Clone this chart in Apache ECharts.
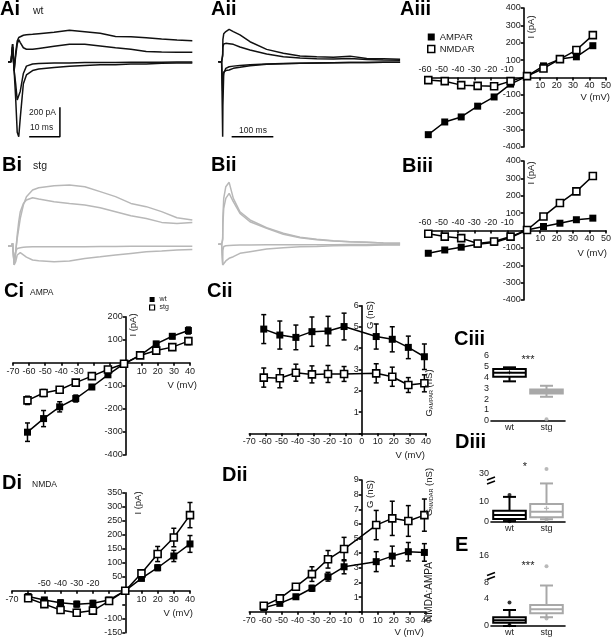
<!DOCTYPE html>
<html><head><meta charset="utf-8">
<script src="https://cdn.jsdelivr.net/npm/echarts@6/dist/echarts.min.js"></script>
<style>html,body{margin:0;padding:0;background:#fff}#c{width:612px;height:639px}</style>
</head><body><div id="c"></div>
<script>
// ---------------- DATA ----------------
// Example current traces (A: wt, black; B: stg, grey). Time in ms, current in pA
const aiT = [0,1,1.5,2,2.5,3,3.5,4,5,6,8,10,15,20,25,30,35,40,45,50,55,60];
const aiTrace1 = [0,0,120,-60,60,140,165,175,180,183,186,190,200,214,204,193,172,170,163,155,148,143];
const aiTrace2 = [0,0,120,-60,40,120,150,130,95,85,84,90,105,118,118,107,95,84,70,66,65,64];
const aiTrace3 = [0,0,100,-60,-250,-480,-510,-380,-150,-90,-60,-50,-40,-30,-25,-20,-20,-15,-15,-10,-8,-8];
const aiTrace4 = [0,0,100,-60,-150,-260,-270,-200,-80,-30,-15,-12,-8,-8,-6,-5,-5,-4,-3,-3,-2,-2];
const aiiT = [0,8,10,10.5,11,13,18,26,36,52,76,116,156,196,236,276,316,356,396,436];
const aiiTrace1 = [0,0,0,50,150,190,205,220,205,182,136,84,57,39,33,30,38,22,20,16];
const aiiTrace2 = [0,0,0,40,100,120,125,122,118,100,80,52,34,25,20,18,22,15,12,10];
const aiiTrace3 = [0,0,0,-510,-300,-80,-45,-34,-30,-25,-20,-15,-12,-10,-8,-7,-6,-5,-4,-4];
const aiiTrace4 = [0,0,0,-200,-120,-70,-60,-56,-45,-38,-27,-18,-14,-10,-8,-7,-6,-5,-4,-4];
const biTrace1 = [0,0,18,-118,-39,52,120,188,279,336,381,397,411,415,404,370,336,290,268,234,193,177];
const biTrace2 = [0,0,18,-118,-39,75,166,234,290,313,329,320,302,290,279,261,234,206,188,161,154,161];
const biTrace3 = [0,0,18,-129,-39,-16,-12,-11,-8,-7,-5,-5,-4,-4,-4,-3,-3,-2,-2,-1,-1,-1];
const biTrace4 = [0,0,18,-129,-107,-61,-50,-45,-60,-75,-95,-100,-107,-102,-84,-73,-61,-50,-39,-34,-27,-23];
const biiTrace1 = [0,0,0,41,177,313,392,422,313,222,166,113,75,48,34,25,18,14,9,7];
const biiTrace2 = [0,0,0,29,132,245,313,347,290,211,154,109,68,45,32,23,18,14,9,7];
const biiTrace3 = [0,0,0,-130,-40,-15,-10,-8,-6,-5,-4,-3,-3,-2,-2,-2,-1,-1,-1,-1];
const biiTrace4 = [0,0,0,-141,-136,-129,-113,-95,-84,-61,-50,-32,-23,-16,-14,-9,-7,-7,-5,-5];
const scaleBarAi = {t: 16.9, i: -510, dt: 10, di: 200};
const scaleBarAii = {t: 132, i: -510, dt: 100};

// I-V relations
const ivV = [-58,-48,-38,-28,-18,-8,2,12,22,32,42];
const aiiiAmpar = [-329,-256,-227,-165,-112,-38,8,67,106,119,183];
const aiiiNmdar = [-15,-21,-44,-48,-50,-21,8,52,106,158,244];
const biiiAmpar = [-131,-112,-96,-79,-69,-40,3,23,42,62,71];
const biiiNmdar = [-19,-35,-44,-75,-63,-35,3,81,158,225,314];

const ciV = [-61,-51,-41,-31,-21,-11,-1,9,19,29,39];
const ciWt = [-301,-242,-191,-155,-105,-52,-4,32,82,115,140];
const ciWtErr = [40,35,22,15,10,10,5,8,10,10,15];
const ciStg = [-163,-131,-117,-86,-58,-29,-4,32,53,68,94];
const ciStgErr = [18,15,12,10,8,8,5,6,8,8,15];

const gV = [-61,-51,-41,-31,-21,-11,9,19,29,39];
const ciiWt = [4.9,4.62,4.51,4.78,4.81,5.02,4.55,4.42,4.04,3.6];
const ciiWtErr = [0.68,0.66,0.58,0.69,0.69,0.63,0.59,0.59,0.53,0.6];
const ciiStg = [2.62,2.59,2.85,2.77,2.79,2.79,2.82,2.66,2.27,2.35];
const ciiStgErr = [0.45,0.45,0.4,0.4,0.4,0.35,0.45,0.45,0.35,0.4];

const diV = [-60,-50,-40,-30,-20,-10,0,10,20,30,40];
const diWt = [-21,-33,-43,-48,-45,-33,0,44,82,124,167];
const diWtErr = [10,8,10,10,10,8,3,8,10,20,30];
const diStg = [-27,-48,-69,-79,-71,-37,0,62,131,190,270];
const diStgErr = [10,10,10,12,10,8,3,10,27,33,45];

const diiWt = [0.27,0.57,1.02,1.6,2.39,3.07,3.42,3.8,4.1,4.05];
const diiWtErr = [0.1,0.1,0.15,0.2,0.3,0.48,0.68,0.68,0.63,0.6];
const diiStg = [0.41,0.91,1.71,2.57,3.58,4.28,5.92,6.38,6.2,6.6];
const diiStgErr = [0.1,0.15,0.2,0.5,0.6,0.8,1.0,1.17,1.05,1.1];

// Box plots [min, Q1, median, Q3, max]
const groups = ['wt','stg'];
const ciiiWtBox = [3.65,4.08,4.44,4.79,4.95];
const ciiiStgBox = [2.22,2.53,2.7,2.9,3.24];
const ciiiStgOut = [0.13];
const ciiiWtMean = [4.5];
const diiiWtBox = [0.3,1.3,3.2,5.3,12.0];
const diiiStgBox = [1.2,2.1,4.8,8.5,18.5];
const diiiWtOut = [12.9,0.2];
const diiiStgOut = [32,1.0];
const diiiStgMean = [6.5];
const eWtBox = [0.0,0.49,0.85,1.29,2.37];
const eStgBox = [1.3,1.88,2.47,3.1,6.0];
const eWtOut = [3.5,0.1];
const eStgOut = [13,1.1];

// tick labels
const aXBelow = [10,20,30,40,50];
const aXAbove = [-60,-50,-40,-30,-20,-10];
const aYLabels = [400,300,200,100,-100,-200,-300,-400];
const ciXBelow = [-70,-60,-50,-40,-30,10,20,30,40];
const ciYLabels = [200,100,-100,-200,-300,-400];
const gXLabels = [-70,-60,-50,-40,-30,-20,-10,0,10,20,30,40];
const ciiYLabels = [1,2,3,4,5,6];
const diXBelow = [-70,10,20,30,40];
const diXAbove = [-50,-40,-30,-20];
const diYLabels = [350,300,250,200,150,100,50,-100,-150];
const diiYLabels = [1,2,3,4,5,6,7,8,9];
const ciiiYLabels = [0,1,2,3,4,5,6];
const diiiLowLabels = [0,10];
const diiiUpLabels = [30];
const eLowLabels = [0,4];
const eUpLabels = [8,16];

// ---------------- BUILD ----------------
const FONT = '"Liberation Sans", Arial, Helvetica, sans-serif';
const TXT = '#1a1a1a';
const GRAY = '#a8a8a8';
const TGRAY = '#b8b8b8';
const LS = {color:'#000', width:1.6};
const grids=[], xAxes=[], yAxes=[], series=[], graphics=[];

function grid(l,t,w,h){grids.push({left:l,top:t,width:w,height:h,containLabel:false,outerBoundsMode:'none',show:false});return grids.length-1;}
const pairs = (xs, ys) => xs.map((x,i)=>[x, ys[i]]);
const triples = (xs, ys, es) => xs.map((x,i)=>[x, ys[i], es[i]]);
const lbl = (list) => (v) => list.indexOf(v) >= 0 ? String(v) : '';

function tracePanel(l,t,w,h,xMax,yMin,yMax,T,traces,color,bar){
  const g = grid(l,t,w,h);
  const xi = xAxes.length, yi = yAxes.length;
  xAxes.push({gridIndex:g,type:'value',min:0,max:xMax,show:false});
  yAxes.push({gridIndex:g,type:'value',min:yMin,max:yMax,show:false});
  traces.forEach(tr=>series.push({type:'line',xAxisIndex:xi,yAxisIndex:yi,data:pairs(T,tr),symbol:'none',
    lineStyle:{color:color,width:1.5},silent:true,z:2}));
  if (bar) {
    const d = bar.di ? [[bar.t-bar.dt,bar.i],[bar.t,bar.i],[bar.t,bar.i+bar.di]] : [[bar.t-bar.dt,bar.i],[bar.t,bar.i]];
    series.push({type:'line',xAxisIndex:xi,yAxisIndex:yi,data:d,symbol:'none',lineStyle:{color:'#000',width:1.5},silent:true,z:3});
  }
}

function errRender(params, api){
  const x=api.value(0), y=api.value(1), e=api.value(2);
  const a=api.coord([x,y+e]), b=api.coord([x,y-e]);
  const hw=2.5, st={stroke:'#000',lineWidth:1.5};
  return {type:'group',children:[
    {type:'line',shape:{x1:a[0],y1:a[1],x2:b[0],y2:b[1]},style:st},
    {type:'line',shape:{x1:a[0]-hw,y1:a[1],x2:a[0]+hw,y2:a[1]},style:st},
    {type:'line',shape:{x1:b[0]-hw,y1:b[1],x2:b[0]+hw,y2:b[1]},style:st}]};
}

function ivPanel(c){
  const g = grid(c.l,c.t,c.w,c.h);
  const xb = xAxes.length, yi = yAxes.length;
  // axes cross at the origin: shift them inward from the grid edges by the position of zero
  const yAxisShift = -(0 - c.xMin)/(c.xMax - c.xMin)*c.w;
  const xBotShift = -(0 - c.yMin)/(c.yMax - c.yMin)*c.h;
  const xTopShift = -(c.yMax - 0)/(c.yMax - c.yMin)*c.h;
  const lab = {fontSize:9,color:TXT,fontFamily:FONT,margin:4};
  xAxes.push({gridIndex:g,type:'value',min:c.xMin,max:c.xMax,interval:10,position:'bottom',offset:xBotShift,
    axisLine:{onZero:false,lineStyle:LS},axisTick:{length:3,lineStyle:LS},splitLine:{show:false},
    axisLabel:Object.assign({},lab,{formatter:lbl(c.xBelow),showMinLabel:true,showMaxLabel:true})});
  xAxes.push({gridIndex:g,type:'value',min:c.xMin,max:c.xMax,interval:10,position:'top',offset:xTopShift,
    axisLine:{show:false,onZero:false},axisTick:{show:false},splitLine:{show:false},
    axisLabel:Object.assign({},lab,{formatter:lbl(c.xAbove||[]),margin:3,showMinLabel:true,showMaxLabel:true})});
  yAxes.push({gridIndex:g,type:'value',min:c.yMin,max:c.yMax,interval:c.yInt,position:'left',offset:yAxisShift,
    axisLine:{onZero:false,lineStyle:LS},axisTick:{length:3,lineStyle:LS},splitLine:{show:false},
    axisLabel:Object.assign({},lab,{formatter:lbl(c.yLabels),margin:3,showMinLabel:true,showMaxLabel:true})});
  c.lines.forEach(s=>{
    if (s.err) series.push({type:'custom',xAxisIndex:xb,yAxisIndex:yi,data:triples(s.x,s.y,s.err),renderItem:errRender,silent:true,z:1});
    series.push({type:'line',name:s.name,xAxisIndex:xb,yAxisIndex:yi,data:pairs(s.x,s.y),symbol:'rect',symbolSize:7,
      lineStyle:{color:'#000',width:1.5},
      itemStyle:s.open?{color:'#fff',borderColor:'#000',borderWidth:1.6}:{color:'#000',borderColor:'#000',borderWidth:0},
      emphasis:{disabled:true},silent:true,z:2});
  });
}

function boxRender(color, capFrac, fill){
  return function(params, api){
    const i=api.value(0);
    const v=[1,2,3,4,5].map(k=>api.value(k));
    const bw=api.size([1,0])[0]*0.88, hw=bw/2, cw=bw*capFrac/2;
    const cx=api.coord([i,v[2]])[0];
    const p=v.map(val=>api.coord([i,val])[1]);
    const st={stroke:color,lineWidth:2,fill:null};
    return {type:'group',children:[
      {type:'line',shape:{x1:cx,y1:p[3],x2:cx,y2:p[4]},style:st},
      {type:'line',shape:{x1:cx,y1:p[1],x2:cx,y2:p[0]},style:st},
      {type:'line',shape:{x1:cx-cw,y1:p[4],x2:cx+cw,y2:p[4]},style:st},
      {type:'line',shape:{x1:cx-cw,y1:p[0],x2:cx+cw,y2:p[0]},style:st},
      {type:'rect',shape:{x:cx-hw,y:p[3],width:bw,height:p[1]-p[3]},style:{stroke:color,lineWidth:2,fill:fill||'#fff'}},
      {type:'line',shape:{x1:cx-hw,y1:p[2],x2:cx+hw,y2:p[2]},style:st}]};
  };
}

function boxGrid(l,t,w,h,min,max,interval,labels,showX){
  const g=grid(l,t,w,h);
  const xi=xAxes.length, yi=yAxes.length;
  xAxes.push({gridIndex:g,type:'category',data:groups,show:showX,position:'bottom',boundaryGap:true,
    axisLine:{lineStyle:LS,onZero:false},axisTick:{show:false},
    axisLabel:{fontSize:9,color:TXT,fontFamily:FONT,margin:2}});
  const ya={gridIndex:g,type:'value',min:min,max:max,position:'left',
    axisLine:{lineStyle:LS,onZero:false},axisTick:{length:3,lineStyle:LS},splitLine:{show:false},
    axisLabel:{fontSize:9,color:TXT,fontFamily:FONT,margin:2,formatter:lbl(labels),showMinLabel:true,showMaxLabel:true}};
  if (interval) ya.interval=interval; else { ya.axisTick.customValues=labels; ya.axisLabel.customValues=labels; }
  yAxes.push(ya);
  return {xi,yi};
}
function addBox(ax, idx, box, color, fill){
  series.push({type:'custom',xAxisIndex:ax.xi,yAxisIndex:ax.yi,data:[[idx].concat(box)],renderItem:boxRender(color,0.4,fill),silent:true,z:2,
    encode:{x:0,y:[1,2,3,4,5]}});
}
function addPts(ax, idx, vals, color, sym, size){
  series.push({type:'scatter',xAxisIndex:ax.xi,yAxisIndex:ax.yi,data:vals.map(v=>[idx,v]),symbol:sym||'circle',symbolSize:size||4,
    itemStyle:{color:color},silent:true,z:3});
}

// Traces
tracePanel(8,17.6,192,125,62.5,-550,300,aiT,[aiTrace1,aiTrace2,aiTrace3,aiTrace4],'#111',scaleBarAi);
tracePanel(218.3,17.6,182.2,125,437,-550,300,aiiT,[aiiTrace1,aiiTrace2,aiiTrace3,aiiTrace4],'#111',scaleBarAii);
tracePanel(8,179.9,192,88.2,62.5,-150,450,aiT,[biTrace1,biTrace2,biTrace3,biTrace4],TGRAY,null);
tracePanel(218.3,178.2,182.2,88.2,437,-150,450,aiiT,[biiTrace1,biiTrace2,biiTrace3,biiTrace4],TGRAY,null);

// IV panels
ivPanel({l:425,t:8,w:181,h:139,xMin:-60,xMax:50,yMin:-400,yMax:400,yInt:100,xBelow:aXBelow,xAbove:aXAbove,yLabels:aYLabels,
  lines:[{name:'AMPAR',x:ivV,y:aiiiAmpar},{name:'NMDAR',x:ivV,y:aiiiNmdar,open:true}]});
ivPanel({l:425,t:161,w:181,h:139,xMin:-60,xMax:50,yMin:-400,yMax:400,yInt:100,xBelow:aXBelow,xAbove:aXAbove,yLabels:aYLabels,
  lines:[{name:'AMPAR',x:ivV,y:biiiAmpar},{name:'NMDAR',x:ivV,y:biiiNmdar,open:true}]});
ivPanel({l:13,t:316.7,w:177,h:138.3,xMin:-70,xMax:40,yMin:-400,yMax:200,yInt:100,xBelow:ciXBelow,yLabels:ciYLabels,
  lines:[{name:'wt',x:ciV,y:ciWt,err:ciWtErr},{name:'stg',x:ciV,y:ciStg,err:ciStgErr,open:true}]});
ivPanel({l:249.3,t:305.7,w:176.7,h:127.6,xMin:-70,xMax:40,yMin:0,yMax:6,yInt:1,xBelow:gXLabels,yLabels:ciiYLabels,
  lines:[{name:'wt',x:gV,y:ciiWt,err:ciiWtErr},{name:'stg',x:gV,y:ciiStg,err:ciiStgErr,open:true}]});
ivPanel({l:12,t:492.7,w:178,h:140,xMin:-70,xMax:40,yMin:-150,yMax:350,yInt:50,xBelow:diXBelow,xAbove:diXAbove,yLabels:diYLabels,
  lines:[{name:'wt',x:diV,y:diWt,err:diWtErr},{name:'stg',x:diV,y:diStg,err:diStgErr,open:true}]});
ivPanel({l:249.3,t:480,w:176.7,h:131.7,xMin:-70,xMax:40,yMin:0,yMax:9,yInt:1,xBelow:gXLabels,yLabels:diiYLabels,
  lines:[{name:'wt',x:gV,y:diiWt,err:diiWtErr},{name:'stg',x:gV,y:diiStg,err:diiStgErr,open:true}]});

// Box panels
const plus='path://M3,0h2v3h3v2h-3v3h-2v-3h-3v-2h3z';
let ax=boxGrid(491,356,74,64.7,0,6,1,ciiiYLabels,true);
addBox(ax,0,ciiiWtBox,'#000'); addBox(ax,1,ciiiStgBox,GRAY,GRAY);
addPts(ax,1,ciiiStgOut,GRAY); addPts(ax,0,ciiiWtMean,'#000',plus,4);
ax=boxGrid(491,482.4,74,39.3,0,19,5,diiiLowLabels,true);
addBox(ax,0,diiiWtBox,'#000'); addBox(ax,1,diiiStgBox,GRAY);
addPts(ax,0,diiiWtOut.filter(v=>v<19),'#000'); addPts(ax,1,diiiStgOut.filter(v=>v<19),GRAY); addPts(ax,1,diiiStgMean,GRAY,plus,5);
ax=boxGrid(491,461.7,74,16.8,28,35,null,diiiUpLabels,false);
addPts(ax,1,diiiStgOut.filter(v=>v>=28),GRAY);
ax=boxGrid(491,585.5,74,40.5,0,6,2,eLowLabels,true);
addBox(ax,0,eWtBox,'#000'); addBox(ax,1,eStgBox,GRAY);
addPts(ax,0,eWtOut.filter(v=>v<6),'#000'); addPts(ax,1,eStgOut.filter(v=>v<6),GRAY);
ax=boxGrid(491,556,74,27,8,16,8,eUpLabels,false);
addPts(ax,1,eStgOut.filter(v=>v>=8),GRAY);

// Texts
function txt(text,x,y,size,o){o=o||{};graphics.push({type:'text',x:x,y:y,rotation:o.rot||0,silent:true,z:100,
  style:{text:text,font:(o.bold?'bold ':'')+size+'px '+FONT,fill:o.color||TXT,align:o.align||'left',verticalAlign:o.va||'middle',rich:o.rich}});}
const TS=20;
txt('Ai',0,9,TS,{bold:1,color:'#000'}); txt('wt',33,11,10.5);
txt('Aii',211,9,TS,{bold:1,color:'#000'});
txt('Aiii',400,9,TS,{bold:1,color:'#000'});
txt('Bi',2,165,TS,{bold:1,color:'#000'}); txt('stg',33,166,10.5);
txt('Bii',211,165,TS,{bold:1,color:'#000'});
txt('Biii',402,166,TS,{bold:1,color:'#000'});
txt('Ci',4,291,TS,{bold:1,color:'#000'}); txt('AMPA',30,293,8.5);
txt('Cii',207,291,TS,{bold:1,color:'#000'});
txt('Ciii',454,339,TS,{bold:1,color:'#000'});
txt('Di',2,483,TS,{bold:1,color:'#000'}); txt('NMDA',32,485,8.5);
txt('Dii',222,475,TS,{bold:1,color:'#000'});
txt('Diii',455,442,TS,{bold:1,color:'#000'});
txt('E',455,545,TS,{bold:1,color:'#000'});
txt('200 pA',29,113,8.5); txt('10 ms',30,128,8.5); txt('100 ms',253,131,8.5,{align:'center'});
txt('I (pA)',531,27,9.5,{rot:Math.PI/2,align:'center'});
txt('I (pA)',531,173,9.5,{rot:Math.PI/2,align:'center'});
txt('I (pA)',133,325,9.5,{rot:Math.PI/2,align:'center'});
txt('I (pA)',138,503,9.5,{rot:Math.PI/2,align:'center'});
txt('G (nS)',370,315,9.5,{rot:Math.PI/2,align:'center'});
txt('G (nS)',370,494,9.5,{rot:Math.PI/2,align:'center'});
txt('V (mV)',610,97,9.5,{align:'right'});
txt('V (mV)',607,253,9.5,{align:'right'});
txt('V (mV)',197,385,9.5,{align:'right'});
txt('V (mV)',425,455,9.5,{align:'right'});
txt('V (mV)',193,613,9.5,{align:'right'});
txt('V (mV)',424,632,9.5,{align:'right'});
const subRich={a:{fontSize:9.5,fontFamily:FONT,color:TXT},b:{fontSize:5.5,fontFamily:FONT,color:TXT,padding:[4,0,0,0]}};
txt('{a|G}{b|AMPAR}{a| (nS)}',429,393,9.5,{rot:Math.PI/2,align:'center',rich:subRich});
txt('{a|G}{b|NMDAR}{a| (nS)}',429,492,9.5,{rot:Math.PI/2,align:'center',rich:subRich});
txt('NMDA:AMPA',429,592,10,{rot:Math.PI/2,align:'center'});
txt('***',528,360,11,{align:'center'});
txt('*',525,467,11,{align:'center'});
txt('***',528,566,11,{align:'center'});
// axis breaks
function brk(x,y){
  graphics.push({type:'rect',shape:{x:x-5,y:y-2,width:10,height:4},style:{fill:'#fff'},silent:true,z:99});
  graphics.push({type:'line',shape:{x1:x-4,y1:y-0.5,x2:x+4,y2:y-3.5},style:{stroke:'#000',lineWidth:1.4},silent:true,z:100});
  graphics.push({type:'line',shape:{x1:x-4,y1:y+3.5,x2:x+4,y2:y+0.5},style:{stroke:'#000',lineWidth:1.4},silent:true,z:100});
}
brk(491,480.5); brk(491,576);

const chart = echarts.init(document.getElementById('c'), null, {renderer:'canvas'});
chart.setOption({
  animation:false, backgroundColor:'#fff', textStyle:{fontFamily:FONT},
  grid:grids, xAxis:xAxes, yAxis:yAxes, series:series,
  legend:[
    {left:427,top:32,orient:'vertical',padding:0,itemWidth:7,itemHeight:7,itemGap:2,selectedMode:false,
     textStyle:{fontSize:9.5,lineHeight:10,color:TXT,fontFamily:FONT},
     data:[{name:'AMPAR',icon:'rect',itemStyle:{color:'#000',borderWidth:0}},{name:'NMDAR',icon:'rect',itemStyle:{color:'#fff',borderColor:'#000',borderWidth:1.5}}]},
    {left:149,top:296,orient:'vertical',padding:0,itemWidth:5,itemHeight:5,itemGap:1,selectedMode:false,
     textStyle:{fontSize:7,lineHeight:6,color:TXT,fontFamily:FONT},
     data:[{name:'wt',icon:'rect',itemStyle:{color:'#000',borderWidth:0}},{name:'stg',icon:'rect',itemStyle:{color:'#fff',borderColor:'#000',borderWidth:1.2}}]}
  ],
  graphic:{elements:graphics}
});
</script></body></html>
